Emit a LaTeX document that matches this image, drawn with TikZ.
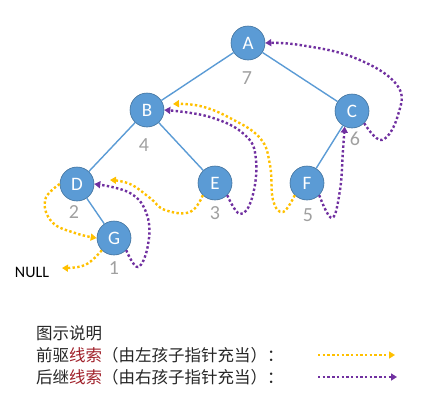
\documentclass[tikz,border=0pt]{standalone}
\usepackage{fontspec}
\setmainfont{Carlito}
\newfontfamily\cjk{Noto Sans CJK SC}
\usetikzlibrary{arrows.meta}
\definecolor{nodefill}{HTML}{5B9BD5}
\definecolor{nodeline}{HTML}{41719C}
\definecolor{edgecol}{HTML}{5B9BD5}
\definecolor{labgrey}{HTML}{A0A0A0}
\definecolor{predcol}{HTML}{FFC000}
\definecolor{succcol}{HTML}{7030A0}
\definecolor{redtxt}{HTML}{A0202A}
\tikzset{
  tnode/.style={circle, fill=nodefill, draw=nodeline, line width=0.6pt, minimum size=34pt, inner sep=0pt, text=white, font=\fontsize{19}{19}\selectfont},
  tlab/.style={text=labgrey, font=\fontsize{20}{20}\selectfont, inner sep=0pt},
  tedge/.style={draw=edgecol, line width=1.4pt},
  pred/.style={draw=predcol, line width=2.4pt, dash pattern=on 2.4pt off 2.3pt, -{Triangle[length=6pt,width=7pt]}},
  succ/.style={draw=succcol, line width=2.4pt, dash pattern=on 2.4pt off 2.3pt, -{Triangle[length=6pt,width=7pt]}},
  legtext/.style={anchor=west, inner sep=0pt, text=black!85, font=\cjk\fontsize{16.5}{16.5}\selectfont}
}
\begin{document}
\begin{tikzpicture}[x=1pt,y=-1pt]
\useasboundingbox (0,0) rectangle (425,402);
% nodes
\node[tnode] (A) at (248,43) {A};
\node[tnode] (B) at (147,110) {B};
\node[tnode] (C) at (352,111) {C};
\node[tnode] (D) at (77,184) {D};
\node[tnode] (E) at (215,183) {E};
\node[tnode] (F) at (307,183) {F};
\node[tnode] (G) at (114,238) {G};
% labels
\node[tlab] (lA) at (247,78) {7};
\node[tlab] (lB) at (144,145) {4};
\node[tlab] (lC) at (355,139) {6};
\node[tlab] (lD) at (74,212) {2};
\node[tlab] (lE) at (215,213) {3};
\node[tlab] (lF) at (308,215) {5};
\node[tlab] (lG) at (114,268) {1};
\node[inner sep=0pt, font=\fontsize{16}{16}\selectfont] (NULL) at (32,272) {NULL};
% tree edges
\draw[tedge] (A) -- (B);
\draw[tedge] (A) -- (C);
\draw[tedge] (B) -- (D);
\draw[tedge] (B) -- (E);
\draw[tedge] (C) -- (F);
\draw[tedge] (D) -- (G);
% helper coordinates
\coordinate (Dtip) at (110,180);
\coordinate (Btip) at (173,104);
\coordinate (Ntip) at (62,268);
% successor threads
\draw[succ] plot[smooth, tension=0.7] coordinates {(G.-45) (138,267) (148,245) (147,215) (130,193) (D.east)};
\draw[succ] plot[smooth, tension=0.7] coordinates {(E.-45) (240,214) (252,198) (256,160) (245,135) (210,117) (B.east)};
\draw[succ] plot[smooth, tension=0.7] coordinates {(F.-45) (332,218) (340,190) (343,150) (C.-115)};
\draw[succ] plot[smooth, tension=0.7] coordinates {(C.-45) (382,140) (398,115) (397,85) (355,58) (300,45) (A.east)};
% predecessor threads
\draw[pred] plot[smooth, tension=0.7] coordinates {(G.-135) (85,265) (Ntip)};
\draw[pred] plot[smooth, tension=0.7] coordinates {(D.west) (45,200) (52,222) (75,233) (G.west)};
\draw[pred] plot[smooth, tension=0.7] coordinates {(E.-135) (190,212) (165,210) (150,198) (130,184) (Dtip)};
\draw[pred] plot[smooth, tension=0.7] coordinates {(F.-135) (283,212) (273,200) (270,165) (260,138) (230,118) (200,106) (Btip)};
% legend
\node[legtext] (L0) at (36,333) {图示说明};
\node[legtext] (L1) at (36,355) {前驱{\color{redtxt}线索}（由左孩子指针充当）：};
\node[legtext] (L2) at (36,377) {后继{\color{redtxt}线索}（由右孩子指针充当）：};
\coordinate (p1) at (318,355);
\coordinate (p2) at (395,355);
\coordinate (s1) at (318,377);
\coordinate (s2) at (397,377);
\draw[pred] (p1) -- (p2);
\draw[succ] (s1) -- (s2);
\end{tikzpicture}
\end{document}
